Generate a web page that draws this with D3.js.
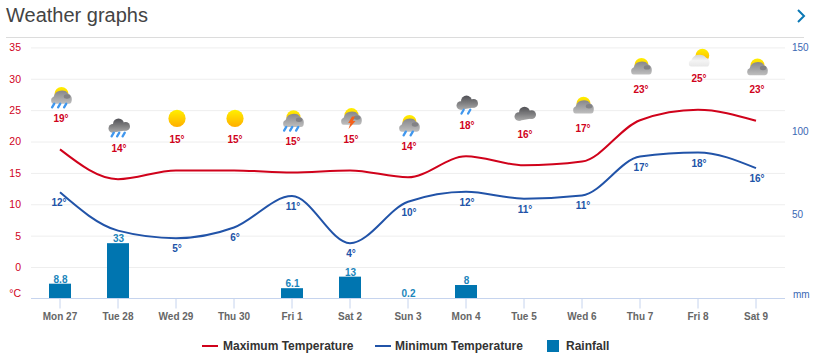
<!DOCTYPE html>
<html><head><meta charset="utf-8">
<script src="https://cdn.jsdelivr.net/npm/d3@7"></script>
<style>html,body{margin:0;padding:0;background:#fff;overflow:hidden}svg{display:block}text{font-family:"Liberation Sans",Arial,sans-serif}</style>
</head><body><svg id="c" width="816" height="363"></svg>
<script>
const days=["Mon 27","Tue 28","Wed 29","Thu 30","Fri 1","Sat 2","Sun 3","Mon 4","Tue 5","Wed 6","Thu 7","Fri 8","Sat 9"];
const maxTemp=[18.75,14.0,15.4,15.4,15.05,15.4,14.3,17.65,16.2,16.8,23.4,25.05,23.3];
const minTemp=[11.9,5.8,4.6,6.3,11.3,3.8,10.4,12.0,10.9,11.4,17.6,18.25,15.75];
const maxLabels=[19,14,15,15,15,15,14,18,16,17,23,25,23];
const minLabels=[12,null,5,6,11,4,10,12,11,11,17,18,16];
const rain=[8.8,33,null,null,6.1,13,0.2,8,null,null,null,null,null];
const icons=["partRain","darkRain","sun","sun","partRain","partStorm","partRain2","darkRain2","dark","part","part","white","part"];
const leftTicks=[0,5,10,15,20,25,30,35];
const rightTicks=[50,100,150];

const RED="#d0021b",BLUE="#2153a8",BAR="#0075b0";
const svg=d3.select("#c");
const x=d3.scaleBand().domain(days).range([31,785]);
const yT=d3.scaleLinear().domain([-5,35]).range([298.4,47.4]);
const yR=d3.scaleLinear().domain([0,150]).range([298.4,47.4]);
const cx=d=>x(d)+x.bandwidth()/2;

const defs=svg.append("defs");
function grad(id,a,b){const g=defs.append("linearGradient").attr("id",id).attr("x1",0).attr("y1",0).attr("x2",0).attr("y2",1);
 g.append("stop").attr("offset",0).attr("stop-color",a);g.append("stop").attr("offset",1).attr("stop-color",b);}
grad("gSun","#fff000","#ffae00");
function ugrad(id,y1,y2,stops){const g=defs.append("linearGradient").attr("id",id).attr("gradientUnits","userSpaceOnUse").attr("x1",0).attr("y1",y1).attr("x2",0).attr("y2",y2);
 stops.forEach((c,i)=>g.append("stop").attr("offset",i/(stops.length-1)).attr("stop-color",c));}
ugrad("gCloud",-6,6,["#8a8a8e","#a2a2a4","#bdbdbd"]);
ugrad("gDark",-8,5,["#55555a","#7c7c7e","#a8a8a8"]);
ugrad("gWhite",-6.5,6,["#d4d4d4","#f4f4f4","#e8e8e8"]);
defs.append("filter").attr("id","soft").append("feGaussianBlur").attr("stdDeviation",0.45);

// header
svg.append("text").attr("x",6).attr("y",22).attr("font-size",20).attr("fill","#444").text("Weather graphs");
svg.append("path").attr("d","M798 10 L804 16 L798 22").attr("fill","none").attr("stroke","#0b78b5").attr("stroke-width",2);
svg.append("line").attr("x1",6).attr("x2",804).attr("y1",37.5).attr("y2",37.5).attr("stroke","#dcdcdc");

// grid and left axis
const gl=svg.append("g").attr("transform","translate(31,0)").call(d3.axisLeft(yT).tickValues(leftTicks).tickSize(-754).tickPadding(10));
gl.select(".domain").remove();
gl.selectAll(".tick line").attr("stroke","#eeeeee");
gl.selectAll(".tick text").attr("font-size",10.5).attr("fill",RED).attr("font-family",null);
svg.append("text").attr("x",21).attr("y",297).attr("text-anchor","end").attr("font-size",10.5).attr("fill",RED).text("°C");

// right axis
const gr=svg.append("g").attr("transform","translate(785,0)").call(d3.axisRight(yR).tickValues(rightTicks).tickSize(0).tickPadding(7));
gr.select(".domain").remove();
gr.selectAll(".tick text").attr("font-size",10).attr("fill","#3a68b4").attr("font-family",null);
svg.append("text").attr("x",793).attr("y",298).attr("font-size",10).attr("fill","#3a68b4").text("mm");

// bars
const bars=days.map((d,i)=>({d,v:rain[i]})).filter(o=>o.v!==null);
svg.selectAll("rect.bar").data(bars).join("rect").attr("class","bar")
 .attr("x",o=>cx(o.d)-11).attr("width",22).attr("y",o=>yR(o.v)).attr("height",o=>yR(0)-yR(o.v)).attr("fill",BAR);
svg.selectAll("text.bl").data(bars).join("text").attr("class","bl")
 .attr("x",o=>cx(o.d)+0.5).attr("y",o=>yR(o.v)-1).attr("text-anchor","middle").attr("font-size",10).attr("font-weight","bold").attr("fill","#1a85bb").text(o=>o.v);

// x axis
const gx=svg.append("g").attr("transform","translate(0,298.5)").call(d3.axisBottom(x).tickSize(10).tickPadding(4));
gx.select(".domain").attr("stroke","#c6d4ee").attr("d","M31,0H785");
gx.selectAll(".tick line").attr("stroke","#c6d4ee");
gx.selectAll(".tick text").attr("font-size",10).attr("font-weight","bold").attr("fill","#666").attr("font-family",null);

// lines
const line=d3.line().x((v,i)=>cx(days[i])).y(v=>yT(v)).curve(d3.curveMonotoneX);
svg.append("path").attr("d",line(maxTemp)).attr("fill","none").attr("stroke",RED).attr("stroke-width",2);
svg.append("path").attr("d",line(minTemp)).attr("fill","none").attr("stroke",BLUE).attr("stroke-width",2);

// temp labels
days.forEach((d,i)=>{
 svg.append("text").attr("x",cx(d)+1).attr("y",yT(maxLabels[i]===17?17.2:maxTemp[i])-27.5).attr("text-anchor","middle").attr("font-size",10).attr("font-weight","bold").attr("fill",RED).text(maxLabels[i]+"°");
 if(minLabels[i]!==null) svg.append("text").attr("x",cx(d)+(i===0?-1:1)).attr("y",yT(minTemp[i])+14).attr("text-anchor","middle").attr("font-size",10).attr("font-weight","bold").attr("fill",BLUE).text(minLabels[i]+"°");
});

// icons
const domePath="M-9.8 3.8Q-10.2 0.4 -7.4 -0.6Q-5.6 -6.8 1 -6.8Q5.4 -6.8 7.4 -3.4Q10.8 -2 10.8 1.8Q10.8 6.4 8 6.4L-7.5 6.4Q-9.6 6.4 -9.8 3.8Z";
function dome(g,fill,patch){g.append("path").attr("d",domePath).attr("fill",fill);
 if(patch) g.append("ellipse").attr("cx",6).attr("cy",-0.8).attr("rx",3.2).attr("ry",2.2).attr("fill","#828286");}
function darkCloud(g){
 [[-6.2,1.2,4.3],[-0.5,-3.2,5.5],[6.6,-0.8,4.4]].forEach(c=>g.append("circle").attr("cx",c[0]).attr("cy",c[1]).attr("r",c[2]).attr("fill","url(#gDark)"));
 g.append("path").attr("d","M-9 3L8 -1L8 3L-6 5.4Z").attr("fill","url(#gDark)");
}
function drops(g,xs,dy){xs.forEach(a=>g.append("path").attr("d",`M${a+1.3} ${6.3+dy}L${a-0.9} ${10+dy}`).attr("stroke","#3f97ee").attr("stroke-width",2.3).attr("stroke-linecap","round"));}
function sunSmall(g,sx,sy,r){g.append("circle").attr("cx",sx).attr("cy",sy).attr("r",r).attr("fill","url(#gSun)");}
const draw={
 sun(g){g.append("circle").attr("cx",0).attr("cy",0).attr("r",8.6).attr("fill","url(#gSun)");},
 partRain(g){sunSmall(g,0.5,-3.3,7);dome(g,"url(#gCloud)",1);drops(g,[-8,-2,4],0);},
 partRain2(g){sunSmall(g,0.5,-3.3,7);dome(g,"url(#gCloud)",1);drops(g,[-4.5,2.5],0);},
 partStorm(g){sunSmall(g,0.5,-3.3,7);dome(g,"url(#gCloud)",1);g.append("path").attr("d","M1 -2L4 -2L2 2.5L4.5 2.5L-2.5 10.5L-0.5 4.5L-2.8 4.5Z").attr("fill","#f4611a");},
 part(g){sunSmall(g,0.5,-3.3,7);dome(g,"url(#gCloud)",1);},
 dark(g){g.append("g").attr("transform","translate(0,2)").call(darkCloud);},
 darkRain(g){darkCloud(g);drops(g,[-6.5,-1,4.5],-0.8);},
 darkRain2(g){darkCloud(g);drops(g,[-4.6,2],-0.8);},
 white(g){sunSmall(g,3.4,-2.3,6.8);g.append("g").attr("transform","translate(-0.3,3) scale(1,0.9)").call(s=>dome(s,"url(#gWhite)",0));}
};
days.forEach((d,i)=>{
 const ly=yT(maxLabels[i]===17?17.2:maxTemp[i])-31;
 const g=svg.append("g").attr("transform",`translate(${cx(d)+1},${ly-21})`).attr("filter","url(#soft)");
 draw[icons[i]](g);
});

// legend
const lg=svg.append("g");
const lt=(tx,t)=>lg.append("text").attr("x",tx).attr("y",350).attr("font-size",12).attr("font-weight","bold").attr("fill","#333").text(t);
lg.append("line").attr("x1",202).attr("x2",218).attr("y1",346).attr("y2",346).attr("stroke",RED).attr("stroke-width",2);
lt(223,"Maximum Temperature");
lg.append("line").attr("x1",375).attr("x2",391).attr("y1",346).attr("y2",346).attr("stroke",BLUE).attr("stroke-width",2);
lt(395,"Minimum Temperature");
lg.append("rect").attr("x",547).attr("y",340).attr("width",12).attr("height",12).attr("fill",BAR);
lt(566,"Rainfall");
</script></body></html>
